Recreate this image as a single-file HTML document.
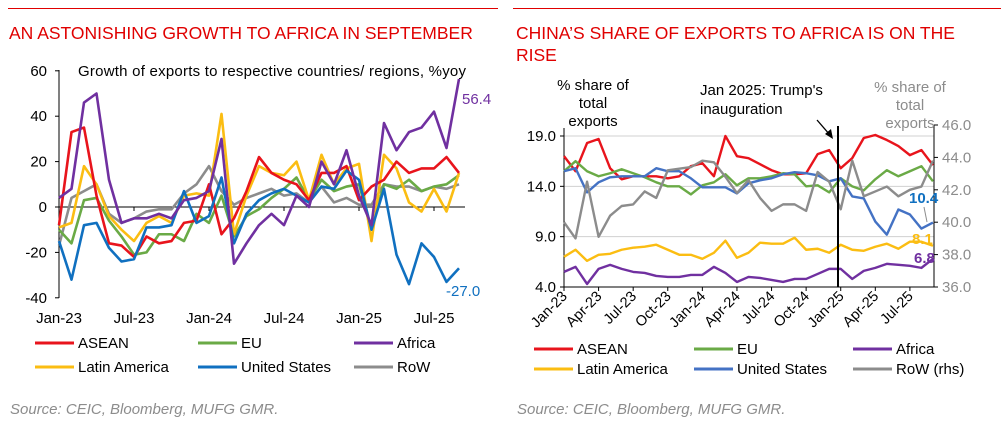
<!DOCTYPE html>
<html><head><meta charset="utf-8"><style>
body{margin:0;width:1004px;height:426px;background:#fff;font-family:"Liberation Sans",sans-serif;overflow:hidden;position:relative}
.t{position:absolute;color:#e00000;font-size:17.5px;line-height:22px}
.rule{position:absolute;height:1px;background:#e00000;top:8px}
.src{position:absolute;top:401px;font-style:italic;color:#8c8c8c;font-size:15px}
svg{position:absolute;left:0;top:0}
</style></head><body>
<div class="rule" style="left:8px;width:490px"></div>
<div class="rule" style="left:513px;width:488px"></div>
<div class="t" style="left:9px;top:22px;white-space:nowrap">AN ASTONISHING GROWTH TO AFRICA IN SEPTEMBER</div>
<div class="t" style="left:516px;top:22px;width:460px">CHINA’S SHARE OF EXPORTS TO AFRICA IS ON THE RISE</div>
<div class="src" style="left:10px">Source: CEIC, Bloomberg, MUFG GMR.</div>
<div class="src" style="left:517px">Source: CEIC, Bloomberg, MUFG GMR.</div>
<svg id="c" width="1004" height="426" font-family="Liberation Sans, sans-serif"></svg>
<script>
// Left chart data (Jan-23 .. Sep-25)
const lTicks=["Jan-23","Jul-23","Jan-24","Jul-24","Jan-25","Jul-25"];
const lYTicks=[60,40,20,0,-20,-40];
const lASEAN=[-8,33,35,5,-16,-17,-22,-13,-16,-15,-7,-6,10,-12,-5,7,22,15,12,10,3,15,15,18,3,9,12,20,15,17,17,22,15];
const lEU=[-10,-16,3,4,-6,-13,-21,-20,-12,-12,-15,-3,-7,5,-13,-4,-1,4,8,13,3,12,7,9,10,-10,10,8,12,7,9,10,14];
const lAfrica=[4,8,46,50,12,-7,-5,-5,-3,-5,3,4,7,30,-25,-16,-8,-3,-8,5,0,20,10,25,5,-8,37,25,33,35,42,26,56.4];
const lLatAm=[-9,-7,18,10,-4,-10,-15,-7,-4,-7,5,6,5,41,-12,5,18,15,14,20,3,23,10,17,19,-15,23,17,2,-2,8,-2,15];
const lUS=[-15,-32,-8,-7,-18,-24,-23,-9,-9,-8,7,-7,-4,13,-16,-3,3,6,8,5,2,9,8,16,12,-10,8,-21,-34,-16,-22,-33,-27];
const lRoW=[-17,4,7,10,-3,-7,-5,-2,-1,-1,6,10,18,7,1,4,6,8,5,6,2,9,2,4,1,1,10,9,9,7,9,8,10];
// Right chart data
const rTicks=["Jan-23","Apr-23","Jul-23","Oct-23","Jan-24","Apr-24","Jul-24","Oct-24","Jan-25","Apr-25","Jul-25"];
const rYTicks=[19,14,9,4];
const rY2Ticks=[46,44,42,40,38,36];
const rASEAN=[17,15.5,18.3,18.7,15.8,14.7,15,15,15,14.8,15,16,16.3,15,19,17,16.8,16.2,15.6,15.2,15.2,15.3,17.2,17.6,15.8,16.8,18.8,19.1,18.6,18,17.1,17.6,16.1];
const rEU=[15.5,16.5,15.5,15,15.3,15.7,15.3,14.9,14.4,14,14,13.2,14.1,14.4,15.2,14.1,14.8,14.8,15,15.3,15.2,14,14.1,13.4,14.8,14,13.6,14.7,15.6,15,15.5,16,14.5];
const rAfrica=[5.5,6,4.3,5.8,6.2,5.8,5.5,5.4,5.1,5,5,5.2,5.2,6,5.4,4.5,5,4.9,4.7,4.5,4.8,4.8,5.3,5.8,5.8,4.8,5.6,5.9,6.3,6.2,6.1,5.9,6.8];
const rLatAm=[7,7.7,6.6,7.2,7.3,7.7,7.9,8,8.2,7.7,7.2,7.2,6.8,7.4,8.6,6.9,7.4,8.4,8.3,8.3,8.9,7.7,7.8,7.4,8.2,7.7,7.6,8,8.3,7.8,8.5,8.5,8.1];
const rUS=[15.5,15.8,13.4,14.4,14.9,15,15,15,15.8,15.5,15.5,14.8,13.9,13.9,13.9,13.3,14.3,14.6,14.8,15.2,15.4,15.3,15.1,14.5,14.8,13,12.8,10.5,9.2,11.7,11.2,9.8,10.4];
const rRoW=[40,39,42.5,39.1,40.4,41,41.1,41.9,41.5,43.2,43.3,43.4,43.8,43.7,42.8,41.8,42.6,41.5,40.7,41.1,41.1,40.7,43.1,42.5,40.8,43.8,41.6,41.9,42.2,41.6,42,42.2,43.8];

const S=document.getElementById('c'),NS="http://www.w3.org/2000/svg";
function mk(t,a,txt){const e=document.createElementNS(NS,t);for(const k in a)e.setAttribute(k,a[k]);if(txt!=null)e.textContent=txt;S.appendChild(e);return e;}
const C={asean:"#e8141c",eu:"#6aaa46",afr:"#7030a0",lat:"#fbbd12",us:"#1070c0",usR:"#4472c4",row:"#8c8c8c"};

// ---- Left chart
const lx=i=>59+i*12.5, ly=v=>207-v*2.27;
let e=mk('line',{x1:59,y1:70,x2:59,y2:298,stroke:'#000'});

e=mk('line',{x1:59,y1:ly(0),x2:lx(32)+6,y2:ly(0),stroke:'#000'});

lYTicks.forEach(v=>{mk('line',{x1:55,x2:59,y1:ly(v),y2:ly(v),stroke:'#000'});
 e=mk('text',{x:47,y:ly(v)+5,'text-anchor':'end','font-size':15},String(v));
 });
lTicks.forEach((t,i)=>{mk('line',{x1:lx(i*6),x2:lx(i*6),y1:ly(0),y2:ly(0)+4,stroke:'#000'});
 e=mk('text',{x:lx(i*6),y:323,'text-anchor':'middle','font-size':15},t);
 });
e=mk('text',{x:78,y:76,'font-size':15,textLength:388},'Growth of exports to respective countries/ regions, %yoy');

[[lRoW,C.row,'row'],[lEU,C.eu,'eu'],[lLatAm,C.lat,'latin-america'],[lASEAN,C.asean,'asean'],[lUS,C.us,'united-states'],[lAfrica,C.afr,'africa']].forEach(([d,c,n])=>{
 e=mk('polyline',{points:d.map((v,i)=>lx(i)+','+ly(v)).join(' '),fill:'none',stroke:c,'stroke-width':2.6,'stroke-linejoin':'round'});
 });
e=mk('text',{x:462,y:104,'font-size':15,fill:C.afr},lAfrica[32].toFixed(1));

e=mk('text',{x:446,y:296,'font-size':15,fill:C.us},lUS[32].toFixed(1));


// ---- Right chart
const rx=i=>564+i*11.53, ry=v=>287-(v-4)*151/15, ry2=v=>287-(v-36)*16.2;
rYTicks.slice(0,3).forEach(v=>mk('line',{x1:564,x2:934,y1:ry(v),y2:ry(v),stroke:'#d0d0d0'}));
e=mk('line',{x1:564,y1:128,x2:564,y2:288,stroke:'#000'});

e=mk('line',{x1:564,y1:287,x2:934,y2:287,stroke:'#000'});

e=mk('line',{x1:934,y1:125,x2:934,y2:287,stroke:'#000'});

rYTicks.forEach(v=>{mk('line',{x1:560,x2:564,y1:ry(v),y2:ry(v),stroke:'#000'});
 e=mk('text',{x:556,y:ry(v)+5,'text-anchor':'end','font-size':15},v.toFixed(1));
 });
rY2Ticks.forEach(v=>{mk('line',{x1:934,x2:938,y1:ry2(v),y2:ry2(v),stroke:'#000'});
 e=mk('text',{x:942,y:ry2(v)+5,'font-size':15,fill:'#8c8c8c'},v.toFixed(1));
 });
rTicks.forEach((t,i)=>{const x=rx(i*3);mk('line',{x1:x,x2:x,y1:287,y2:291,stroke:'#000'});
 e=mk('text',{x:x+4,y:297,'text-anchor':'end','font-size':14.5,transform:`rotate(-45 ${x+4} 297)`},t);
 });
[[rASEAN,C.asean,'asean',ry],[rEU,C.eu,'eu',ry],[rAfrica,C.afr,'africa',ry],[rLatAm,C.lat,'latin-america',ry],[rUS,C.usR,'united-states',ry],[rRoW,C.row,'row',ry2]].forEach(([d,c,n,f])=>{
 e=mk('polyline',{points:d.map((v,i)=>rx(i)+','+f(v)).join(' '),fill:'none',stroke:c,'stroke-width':2.4,'stroke-linejoin':'round'});
 });
e=mk('line',{x1:838,y1:126,x2:838,y2:287,stroke:'#000','stroke-width':2});

e=mk('line',{x1:817,y1:120,x2:830,y2:135,stroke:'#000','stroke-width':1.3});

mk('polygon',{points:'833,139 825,134 831,129',fill:'#000'});
[['% share of',90],['total',108],['exports',126]].forEach(([t,y])=>{e=mk('text',{x:593,y:y,'text-anchor':'middle','font-size':15},t);
 });
[['% share of',92],['total',110],['exports',128]].forEach(([t,y])=>{e=mk('text',{x:910,y:y,'text-anchor':'middle','font-size':15,fill:'#8c8c8c'},t);
 });
e=mk('text',{x:700,y:95,'font-size':15},"Jan 2025: Trump's");

e=mk('text',{x:700,y:114,'font-size':15},'inauguration');

e=mk('text',{x:909,y:203,'font-size':15,'font-weight':'bold',fill:C.us},rUS[32].toFixed(1));

mk('line',{x1:924,y1:207,x2:927,y2:222,stroke:'#8c8c8c'});
e=mk('text',{x:912,y:244,'font-size':15,'font-weight':'bold',fill:C.lat},rLatAm[32].toFixed(1));

e=mk('text',{x:914,y:263,'font-size':15,'font-weight':'bold',fill:C.afr},rAfrica[32].toFixed(1));


// ---- Legends
const legL=[['ASEAN',C.asean,35,343],['EU',C.eu,198,343],['Africa',C.afr,354,343],['Latin America',C.lat,35,367],['United States',C.us,198,367],['RoW',C.row,354,367]];
legL.forEach(([t,c,x,y])=>{mk('line',{x1:x,x2:x+39,y1:y,y2:y,stroke:c,'stroke-width':3});
 e=mk('text',{x:x+43,y:y+5,'font-size':15},t);
 });
const legR=[['ASEAN',C.asean,534,349],['EU',C.eu,694,349],['Africa',C.afr,853,349],['Latin America',C.lat,534,369],['United States',C.usR,694,369],['RoW (rhs)',C.row,853,369]];
legR.forEach(([t,c,x,y])=>{mk('line',{x1:x,x2:x+39,y1:y,y2:y,stroke:c,'stroke-width':3});
 e=mk('text',{x:x+43,y:y+5,'font-size':15},t);
 });
</script>
</body></html>
